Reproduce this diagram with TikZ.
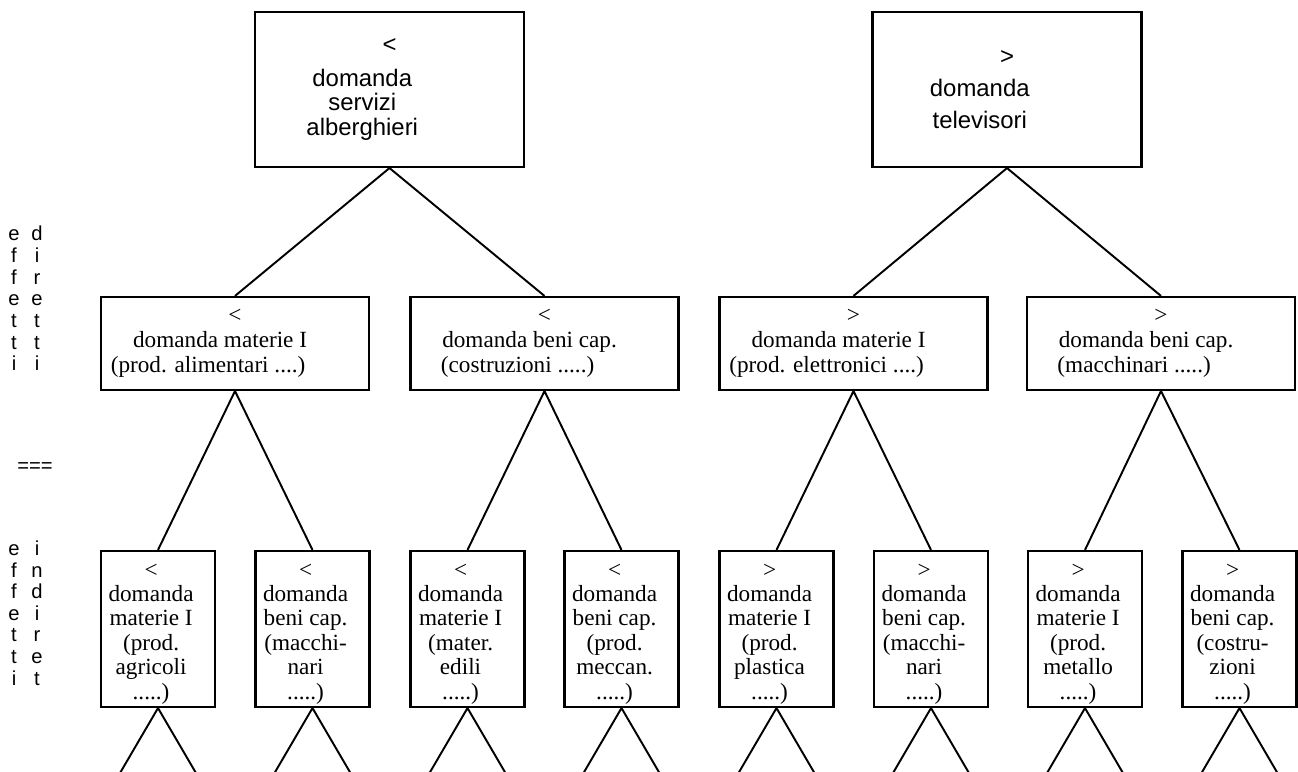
\documentclass[tikz,border=0pt]{standalone}
\usepackage{fontspec}
\setmainfont{Liberation Serif}
\setsansfont{Liberation Sans}
\newcommand{\pushl}[2]{\hbox{#2\hspace*{#1}}}
\newcommand{\lowtext}[6]{\pushl{7.9pt}{\rule{0pt}{13.2pt}#1}\\\pushl{7.9pt}{#2}\\\pushl{7.9pt}{#3}\\\pushl{7.9pt}{#4}\\\pushl{7.9pt}{#5}\\\pushl{7.9pt}{#6}}

\begin{document}
\begin{tikzpicture}[scale=0.2]
    \tikzstyle{every node}+=[inner sep=0pt]
    \tikzstyle{topbox}=[draw=black, line width=1.2pt, minimum width=5.38cm, minimum height=3.1cm, align=center, font=\sffamily\fontsize{13.6}{13.9}\selectfont]
    \tikzstyle{midbox}=[draw=black, line width=1.2pt, minimum width=5.36cm, minimum height=1.86cm, align=center, font=\fontsize{13.2}{14.1}\selectfont]
    \tikzstyle{lowbox}=[draw=black, line width=1.2pt, minimum width=2.28cm, minimum height=3.12cm, align=center, font=\fontsize{13.2}{13.9}\selectfont]
    \tikzstyle{side}=[align=center, font=\sffamily\fontsize{11.5}{12.3}\selectfont]
    \useasboundingbox (0,0) rectangle (129.8,-77.2);
    % scritte a sinistra
    \node [side] (effA) at (1.4,-30.15) {\strut e\\f\\f\\e\\t\\t\\i\strut};
    \node [side] (dir) at (3.7,-30.15) {\strut d\\i\\r\\e\\t\\t\\i\strut};
    \node [side] (uguale) at (3.5,-46.8) {===};
    \node [side] (effB) at (1.4,-61.6) {\strut e\\f\\f\\e\\t\\t\\i\strut};
    \node [side] (ind) at (3.7,-61.6) {\strut i\\n\\d\\i\\r\\e\\t\strut};
    % livello 1
    \node [topbox] (hotel) at (38.95,-8.95) {<\\[5.4pt]\pushl{31pt}{domanda}\\\pushl{31pt}{servizi}\\\pushl{31pt}{alberghieri}};
    \node [topbox] (tv) at (100.7,-8.95) {>\\[4.2pt]\pushl{31pt}{domanda}\\[4.2pt]\pushl{31pt}{televisori}};
    % livello 2
    \node [midbox] (matA) at (23.5,-34.35) {<\\\pushl{17pt}{domanda materie I}\\\pushl{30.6pt}{(prod. alimentari ....)}};
    \node [midbox] (capA) at (54.45,-34.35) {<\\\pushl{17pt}{domanda beni cap.}\\\pushl{30.6pt}{(costruzioni .....)}};
    \node [midbox] (matB) at (85.35,-34.35) {>\\\pushl{17pt}{domanda materie I}\\\pushl{30.6pt}{(prod. elettronici ....)}};
    \node [midbox] (capB) at (116.1,-34.35) {>\\\pushl{17pt}{domanda beni cap.}\\\pushl{30.6pt}{(macchinari .....)}};
    % livello 3
    \node [lowbox] (agri) at (15.8,-62.9) {\lowtext{<}{domanda}{materie I}{(prod.}{agricoli}{.....)}};
    \node [lowbox] (macA) at (31.25,-62.9) {\lowtext{<}{domanda}{beni cap.}{(macchi-}{nari}{.....)}};
    \node [lowbox] (edil) at (46.75,-62.9) {\lowtext{<}{domanda}{materie I}{(mater.}{edili}{.....)}};
    \node [lowbox] (mecc) at (62.15,-62.9) {\lowtext{<}{domanda}{beni cap.}{(prod.}{meccan.}{.....)}};
    \node [lowbox] (plast) at (77.65,-62.9) {\lowtext{>}{domanda}{materie I}{(prod.}{plastica}{.....)}};
    \node [lowbox] (macB) at (93.1,-62.9) {\lowtext{>}{domanda}{beni cap.}{(macchi-}{nari}{.....)}};
    \node [lowbox] (metal) at (108.5,-62.9) {\lowtext{>}{domanda}{materie I}{(prod.}{metallo}{.....)}};
    \node [lowbox] (costr) at (123.95,-62.9) {\lowtext{>}{domanda}{beni cap.}{(costru-}{zioni}{.....)}};
    % rami
    \draw [black, line width=1.1pt] (matA.north) -- (hotel.south) -- (capA.north);
    \draw [black, line width=1.1pt] (matB.north) -- (tv.south) -- (capB.north);
    \draw [black, line width=1.1pt] (agri.north) -- (matA.south) -- (macA.north);
    \draw [black, line width=1.1pt] (edil.north) -- (capA.south) -- (mecc.north);
    \draw [black, line width=1.1pt] (plast.north) -- (matB.south) -- (macB.north);
    \draw [black, line width=1.1pt] (metal.north) -- (capB.south) -- (costr.north);
    \draw [black, line width=1.1pt] (agri.south) -- ++(-3.8,-6.5) (agri.south) -- ++(3.8,-6.5);
    \draw [black, line width=1.1pt] (macA.south) -- ++(-3.8,-6.5) (macA.south) -- ++(3.8,-6.5);
    \draw [black, line width=1.1pt] (edil.south) -- ++(-3.8,-6.5) (edil.south) -- ++(3.8,-6.5);
    \draw [black, line width=1.1pt] (mecc.south) -- ++(-3.8,-6.5) (mecc.south) -- ++(3.8,-6.5);
    \draw [black, line width=1.1pt] (plast.south) -- ++(-3.8,-6.5) (plast.south) -- ++(3.8,-6.5);
    \draw [black, line width=1.1pt] (macB.south) -- ++(-3.8,-6.5) (macB.south) -- ++(3.8,-6.5);
    \draw [black, line width=1.1pt] (metal.south) -- ++(-3.8,-6.5) (metal.south) -- ++(3.8,-6.5);
    \draw [black, line width=1.1pt] (costr.south) -- ++(-3.8,-6.5) (costr.south) -- ++(3.8,-6.5);
\end{tikzpicture}
\end{document}
